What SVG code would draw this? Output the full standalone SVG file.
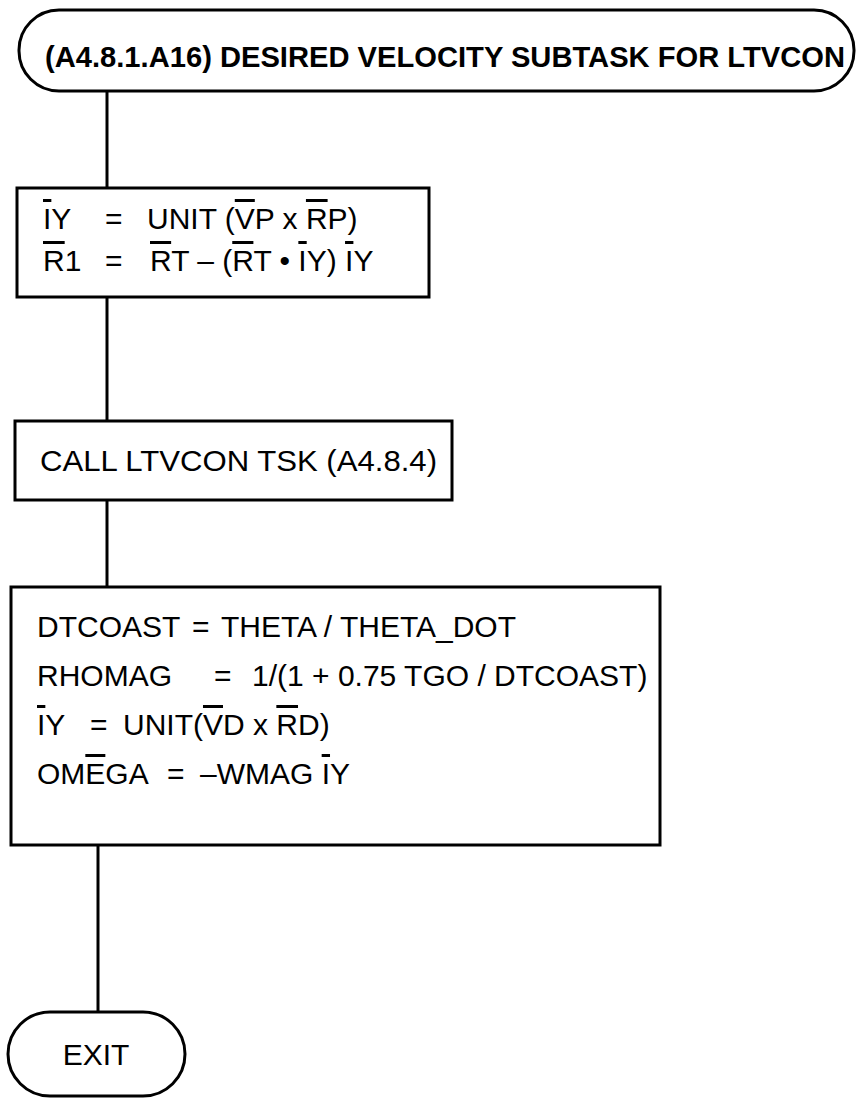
<svg xmlns="http://www.w3.org/2000/svg" width="857" height="1098" viewBox="0 0 857 1098">
<style>
.box{fill:#fff;stroke:#000;stroke-width:3}
.ln{stroke:#000;stroke-width:3;fill:none}
.t{font-family:"Liberation Sans",Arial,sans-serif;font-size:30px;fill:#000}
.tb{font-family:"Liberation Sans",Arial,sans-serif;font-size:29px;font-weight:bold;fill:#000}
.ov{text-decoration:overline}
</style>
<rect width="857" height="1098" fill="#fff"/>
<g id="connectors">
<line class="ln" x1="107" y1="91" x2="107" y2="188"/>
<line class="ln" x1="107" y1="297" x2="107" y2="421"/>
<line class="ln" x1="107" y1="500" x2="107" y2="587"/>
<line class="ln" x1="98" y1="845" x2="98" y2="1012"/>
</g>
<g id="title">
<rect class="box" x="19" y="10" width="835" height="81" rx="40" ry="40"/>
<text class="tb" x="45" y="67" textLength="800" lengthAdjust="spacingAndGlyphs">(A4.8.1.A16)  DESIRED VELOCITY SUBTASK FOR LTVCON</text>
</g>
<g id="box1">
<rect class="box" x="17" y="188" width="412" height="109"/>
<text class="t" x="43" y="229"><tspan class="ov">I</tspan>Y</text>
<text class="t" x="105" y="229">=</text>
<text class="t" x="147" y="229">UNIT (<tspan class="ov">V</tspan>P x <tspan class="ov">R</tspan>P)</text>
<text class="t" x="43" y="271"><tspan class="ov">R</tspan>1</text>
<text class="t" x="105" y="271">=</text>
<text class="t" x="150" y="271"><tspan class="ov">R</tspan>T – (<tspan class="ov">R</tspan>T • <tspan class="ov">I</tspan>Y) <tspan class="ov">I</tspan>Y</text>
</g>
<g id="box2">
<rect class="box" x="15" y="421" width="437" height="79"/>
<text class="t" x="40" y="471" textLength="397" lengthAdjust="spacingAndGlyphs">CALL LTVCON TSK (A4.8.4)</text>
</g>
<g id="box3">
<rect class="box" x="11" y="587" width="649" height="258"/>
<text class="t" x="37" y="637">DTCOAST</text>
<text class="t" x="192" y="637">=</text>
<text class="t" x="221" y="637">THETA / THETA_DOT</text>
<text class="t" x="37" y="686">RHOMAG</text>
<text class="t" x="214" y="686">=</text>
<text class="t" x="252" y="686">1/(1 + 0.75 TGO / DTCOAST)</text>
<text class="t" x="37" y="735"><tspan class="ov">I</tspan>Y</text>
<text class="t" x="90" y="735">=</text>
<text class="t" x="123" y="735">UNIT(<tspan class="ov">V</tspan>D x <tspan class="ov">R</tspan>D)</text>
<text class="t" x="37" y="784">OM<tspan class="ov">E</tspan>GA</text>
<text class="t" x="167" y="784">=</text>
<text class="t" x="200" y="784">–WMAG <tspan class="ov">I</tspan>Y</text>
</g>
<g id="exit">
<rect class="box" x="8" y="1012" width="177" height="84" rx="42" ry="42"/>
<text class="t" x="96" y="1065" text-anchor="middle">EXIT</text>
</g>
</svg>
